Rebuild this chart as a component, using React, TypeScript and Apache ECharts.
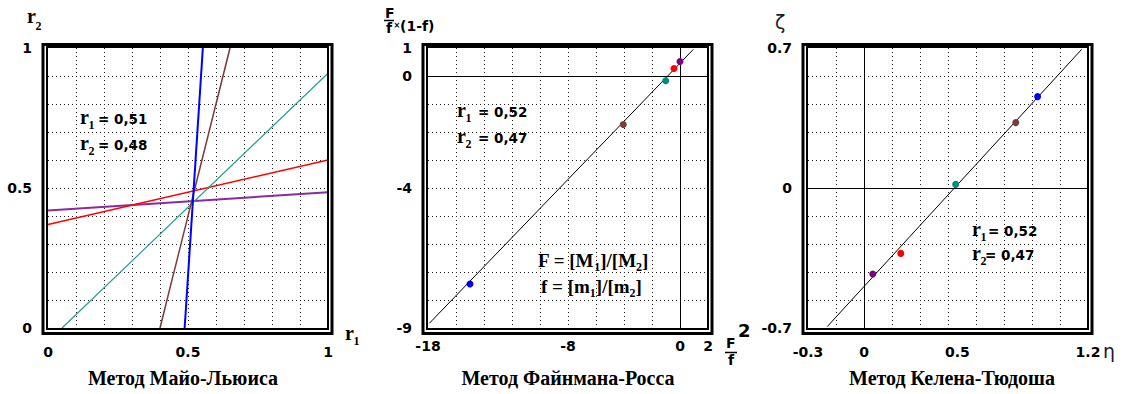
import React, { useEffect, useRef } from "react";
import * as echarts from "echarts";

// ---------- Data ----------
// Panel 1: Mayo–Lewis lines, endpoints [r1, r2]
const mayoBlue = [[0.488, 0], [0.553, 1]];
const mayoBrown = [[0.40, 0], [0.65, 1]];
const mayoTeal = [[0.05, 0], [1, 0.91]];
const mayoRed = [[0, 0.37], [1, 0.60]];
const mayoPurple = [[0, 0.42], [1, 0.485]];
const mayoXTicks = [0, 0.5, 1];
const mayoYTicks = [0, 0.5, 1];

// Panel 2: Fineman–Ross (x = F^2/f, y = F/f*(1-f))
const frLine = [[-17.9, -8.83], [0.95, 0.95]];
const frX = [-15, -4.05, -1.02, -0.43, 0];
const frY = [-7.43, -1.73, -0.17, 0.27, 0.52];
const frXTicks = [-18, -8, 0, 2];
const frYTicks = [-9, -4, 0, 1];

// Panel 3: Kelen–Tüdős (x = eta, y = zeta)
const ktLine = [[-0.197, -0.693], [1.166, 0.693]];
const ktX = [0.93, 0.813, 0.491, 0.197, 0.047];
const ktY = [0.457, 0.327, 0.018, -0.327, -0.43];
const ktXTicks = [-0.3, 0, 0.5, 1.2];
const ktYTicks = [-0.7, 0, 0.7];

const titles = ["Метод Майо-Льюиса", "Метод Файнмана-Росса", "Метод Келена-Тюдоша"];
const mayoResult = ["0,51", "0,48"];
const frResult = ["0,52", "0,47"];
const ktResult = ["0,52", "0,47"];

// ---------- Styles ----------
const pointColors = ["#0000ff", "#7b3b3b", "#008b80", "#ff0000", "#800080"];
const SANS = "'DejaVu Sans', sans-serif";
const SERIF = "'Liberation Serif', 'Times New Roman', serif";
const PLOT_LEFT = [48, 428, 808];
const TOP = 48;
const SIZE = 280;

let measureCtx: CanvasRenderingContext2D | null = null;
function measure(t: string, font: string) {
  if (!measureCtx) measureCtx = document.createElement("canvas").getContext("2d");
  measureCtx!.font = font;
  return measureCtx!.measureText(t).width;
}

function txt(x: number, baseline: number, text: string, size: number, family: string, align = "left", color = "#000", weight = "bold") {
  const font = `${weight} ${size}px ${family}`;
  return {
    type: "text",
    x,
    y: baseline - 0.345 * size,
    z: 60,
    silent: true,
    style: { text, font, fill: color, textAlign: align, textVerticalAlign: "middle", align, verticalAlign: "middle" },
  };
}

type Piece = { t: string; s: number; f: string; dy?: number };
function flow(x: number, baseline: number, pieces: Piece[]) {
  let cx = x;
  return pieces.map((p) => {
    const el = txt(cx, baseline + (p.dy ?? 0), p.t, p.s, p.f);
    cx += measure(p.t, `bold ${p.s}px ${p.f}`);
    return el;
  });
}

function rLabel(x: number, baseline: number, sub: string, restX: number, rest: string) {
  return [
    txt(x, baseline, "r", 20, SERIF),
    txt(x + 8.5, baseline + 5, sub, 12, SERIF),
    txt(restX, baseline, rest, 13.5, SANS),
  ];
}

function frame(px: number) {
  return [
    { type: "rect", z: 70, silent: true, shape: { x: px - 5, y: 44.5, width: 289, height: 289 }, style: { fill: "none", stroke: "#000", lineWidth: 3 } },
    { type: "rect", z: 70, silent: true, shape: { x: px - 1, y: 47, width: 281, height: 282 }, style: { fill: "none", stroke: "#000", lineWidth: 2 } },
  ];
}

function axis(gridIndex: number, min: number, max: number, interval: number, labels: number[], margin: number) {
  return {
    type: "value",
    gridIndex,
    min,
    max,
    interval,
    axisLine: { show: false },
    axisTick: { show: false },
    splitLine: {
      show: true,
      showMinLine: false,
      showMaxLine: false,
      lineStyle: { color: "#222", type: [1, 3], width: 1 },
    },
    axisLabel: {
      customValues: labels,
      showMinLabel: true,
      showMaxLabel: true,
      margin,
      color: "#000",
      fontFamily: SANS,
      fontWeight: "bold",
      fontSize: 14,
    },
  };
}

function zeroLines() {
  return {
    symbol: ["none", "none"],
    silent: true,
    animation: false,
    label: { show: false },
    lineStyle: { color: "#000", type: "solid", width: 1, opacity: 1 },
    emphasis: { disabled: true },
    data: [{ xAxis: 0 }, { yAxis: 0 }],
  };
}

function lineSeries(idx: number, data: number[][], color: string, width: number, extra: any = {}) {
  return {
    type: "line",
    xAxisIndex: idx,
    yAxisIndex: idx,
    data,
    symbol: "none",
    showSymbol: false,
    silent: true,
    lineStyle: { color, width, opacity: 1 },
    ...extra,
  };
}

function pointSeries(idx: number, xs: number[], ys: number[]) {
  return {
    type: "scatter",
    xAxisIndex: idx,
    yAxisIndex: idx,
    symbolSize: 7,
    z: 10,
    silent: true,
    data: xs.map((x, i) => ({ value: [x, ys[i]], itemStyle: { color: pointColors[i], opacity: 1 } })),
  };
}

function buildOption() {
  const graphic: any[] = [];
  PLOT_LEFT.forEach((px) => graphic.push(...frame(px)));

  // Panel 1 texts
  graphic.push(txt(27, 23, "r", 20, SERIF), txt(35.5, 30, "2", 12, SERIF));
  graphic.push(txt(345, 340, "r", 20, SERIF), txt(353.5, 345, "1", 12, SERIF));
  graphic.push(...rLabel(80, 124, "1", 98, "= " + mayoResult[0]));
  graphic.push(...rLabel(80, 150, "2", 98, "= " + mayoResult[1]));

  // Panel 2 texts
  graphic.push(txt(385, 18, "F", 14, SANS));
  graphic.push({ type: "line", z: 60, silent: true, shape: { x1: 384, y1: 20.5, x2: 394, y2: 20.5 }, style: { stroke: "#000", lineWidth: 1.5 } });
  graphic.push(txt(386, 33, "f", 14, SANS));
  graphic.push(txt(393.5, 28, "×", 8, SANS));
  graphic.push(txt(400, 31, "(1-f)", 14, SANS));
  graphic.push(...rLabel(457, 117, "1", 478, "= " + frResult[0]));
  graphic.push(...rLabel(457, 143, "2", 478, "= " + frResult[1]));
  graphic.push(
    ...flow(538, 267, [
      { t: "F = [M", s: 19, f: SERIF },
      { t: "1", s: 12, f: SERIF, dy: 4 },
      { t: "]/[M", s: 19, f: SERIF },
      { t: "2", s: 12, f: SERIF, dy: 4 },
      { t: "]", s: 19, f: SERIF },
    ])
  );
  graphic.push(
    ...flow(541, 293, [
      { t: "f = [m", s: 19, f: SERIF },
      { t: "1", s: 12, f: SERIF, dy: 4 },
      { t: "]/[m", s: 19, f: SERIF },
      { t: "2", s: 12, f: SERIF, dy: 4 },
      { t: "]", s: 19, f: SERIF },
    ])
  );
  graphic.push(txt(726, 348, "F", 14, SANS));
  graphic.push(txt(738, 337, "2", 18, SANS));
  graphic.push({ type: "line", z: 60, silent: true, shape: { x1: 725, y1: 352.5, x2: 737, y2: 352.5 }, style: { stroke: "#000", lineWidth: 1.5 } });
  graphic.push(txt(728, 365, "f", 14, SANS));

  // Panel 3 texts
  graphic.push(txt(775, 29, "ζ", 19, SANS, "left", "#1a1a2a", "normal"));
  graphic.push(txt(1103, 358, "η", 19, SANS, "left", "#1a1a2a", "normal"));
  graphic.push(...rLabel(972, 236, "1", 988, "= " + ktResult[0]));
  graphic.push(...rLabel(972, 260, "2", 985, "= " + ktResult[1]));

  // Titles
  const titleX = [183, 568, 952];
  titles.forEach((t, i) => graphic.push(txt(titleX[i], 385, t, 20, SERIF, "center")));

  return {
    animation: false,
    backgroundColor: "#ffffff",
    grid: PLOT_LEFT.map((left) => ({ left, top: TOP, width: SIZE, height: SIZE, containLabel: false })),
    xAxis: [
      axis(0, 0, 1, 0.1, mayoXTicks, 17),
      axis(1, -18, 2, 2, frXTicks, 11),
      axis(2, -0.3, 1.2, 0.15, ktXTicks, 17),
    ],
    yAxis: [
      axis(0, 0, 1, 0.1, mayoYTicks, 16),
      axis(1, -9, 1, 1, frYTicks, 16),
      axis(2, -0.7, 0.7, 0.14, ktYTicks, 16),
    ],
    series: [
      lineSeries(0, mayoPurple, "#8a2aa0", 2),
      lineSeries(0, mayoRed, "#ff0000", 1.5),
      lineSeries(0, mayoTeal, "#20a090", 1.2),
      lineSeries(0, mayoBrown, "#7b3b3b", 1.5),
      lineSeries(0, mayoBlue, "#0000ff", 2),
      lineSeries(1, frLine, "#000", 1, { markLine: zeroLines() }),
      pointSeries(1, frX, frY),
      lineSeries(2, ktLine, "#000", 1, { markLine: zeroLines() }),
      pointSeries(2, ktX, ktY),
    ],
    graphic,
  };
}

export default function App() {
  const ref = useRef<HTMLDivElement>(null);
  useEffect(() => {
    if (!ref.current) return;
    const chart = echarts.init(ref.current, null, { renderer: "svg" });
    chart.setOption(buildOption() as any);
    return () => chart.dispose();
  }, []);
  return (
    <div
      ref={ref}
      style={{ position: "absolute", left: 0, top: 0, width: 1123, height: 394, background: "#fff" }}
    />
  );
}
